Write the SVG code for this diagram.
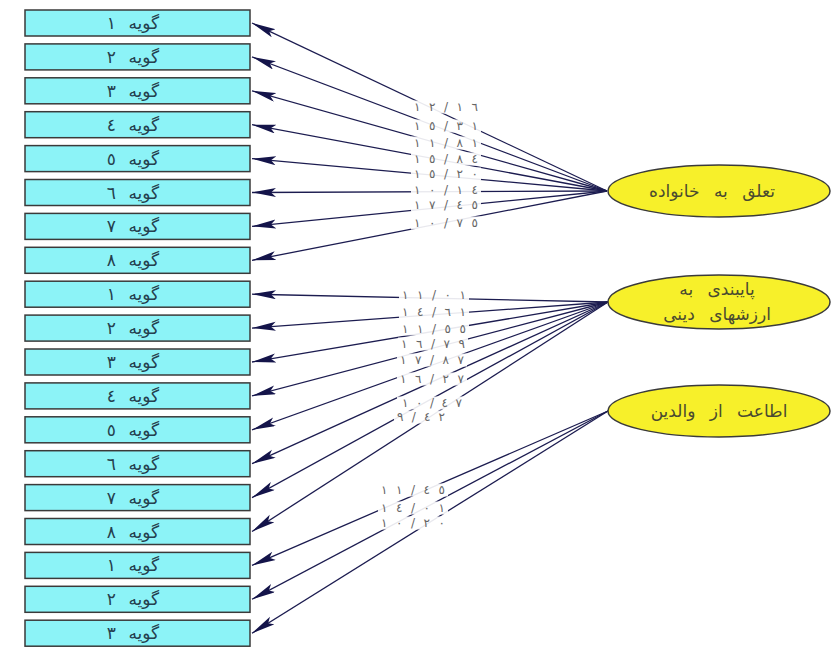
<svg xmlns="http://www.w3.org/2000/svg" width="831" height="647" viewBox="0 0 831 647">
<style>
.box{fill:#8cf3f7;stroke:#3a3a3a;stroke-width:1.5}
.bt{font-family:"DejaVu Sans",sans-serif;font-size:17px;fill:#24404e;text-anchor:middle;dominant-baseline:central;word-spacing:7px}
.ell{fill:#f7f02a;stroke:#3a3a3a;stroke-width:1.5}
.et{font-family:"DejaVu Sans",sans-serif;font-size:17px;fill:#4a4a30;text-anchor:middle;dominant-baseline:central;word-spacing:9px}
.ln{stroke:#1c1c50;stroke-width:1.3;fill:none;marker-end:url(#ah)}
.lb{fill:#ffffff;opacity:0.9}
.lt{font-family:"DejaVu Sans",sans-serif;font-size:12px;fill:#666;text-anchor:middle;dominant-baseline:central}
</style>
<defs>
<marker id="ah" markerUnits="userSpaceOnUse" markerWidth="26" markerHeight="10" refX="24" refY="4.5" orient="auto">
<path d="M0,0 L24,4.5 L0,9 L5,4.5 z" fill="#14144a"/>
</marker>
</defs>
<rect width="831" height="647" fill="#ffffff"/>
<g id="connectors">
<line class="ln" x1="607" y1="191" x2="252" y2="23"/>
<line class="ln" x1="607" y1="191" x2="252" y2="56.9"/>
<line class="ln" x1="607" y1="191" x2="252" y2="90.8"/>
<line class="ln" x1="607" y1="191" x2="252" y2="124.7"/>
<line class="ln" x1="607" y1="191" x2="252" y2="158.6"/>
<line class="ln" x1="607" y1="191" x2="252" y2="192.5"/>
<line class="ln" x1="607" y1="191" x2="252" y2="226.4"/>
<line class="ln" x1="607" y1="191" x2="252" y2="260.3"/>
<line class="ln" x1="608" y1="302" x2="252" y2="294.2"/>
<line class="ln" x1="608" y1="302" x2="252" y2="328.1"/>
<line class="ln" x1="608" y1="302" x2="252" y2="362"/>
<line class="ln" x1="608" y1="302" x2="252" y2="395.9"/>
<line class="ln" x1="608" y1="302" x2="252" y2="429.8"/>
<line class="ln" x1="608" y1="302" x2="252" y2="463.7"/>
<line class="ln" x1="608" y1="302" x2="252" y2="497.6"/>
<line class="ln" x1="608" y1="302" x2="252" y2="531.5"/>
<line class="ln" x1="608" y1="411" x2="252" y2="565.4"/>
<line class="ln" x1="608" y1="411" x2="252" y2="599.3"/>
<line class="ln" x1="608" y1="411" x2="252" y2="633.2"/>
<g id="edge-labels">
<rect class="lb" x="411" y="100.5" width="70" height="13"/><text class="lt" x="446" y="107" textLength="64" lengthAdjust="spacing">١٢/١٦</text>
<rect class="lb" x="411" y="119.5" width="70" height="13"/><text class="lt" x="446" y="126" textLength="64" lengthAdjust="spacing">١٥/٣١</text>
<rect class="lb" x="411" y="136.5" width="70" height="13"/><text class="lt" x="446" y="143" textLength="64" lengthAdjust="spacing">١١/٨١</text>
<rect class="lb" x="411" y="152.5" width="70" height="13"/><text class="lt" x="446" y="159" textLength="64" lengthAdjust="spacing">١٥/٨٤</text>
<rect class="lb" x="411" y="167.5" width="70" height="13"/><text class="lt" x="446" y="174" textLength="64" lengthAdjust="spacing">١٥/٢٠</text>
<rect class="lb" x="411" y="183.5" width="70" height="13"/><text class="lt" x="446" y="190" textLength="64" lengthAdjust="spacing">١٠/١٤</text>
<rect class="lb" x="411" y="198.5" width="70" height="13"/><text class="lt" x="446" y="205" textLength="64" lengthAdjust="spacing">١٧/٤٥</text>
<rect class="lb" x="411" y="216.5" width="70" height="13"/><text class="lt" x="446" y="223" textLength="64" lengthAdjust="spacing">١٠/٧٥</text>
<rect class="lb" x="399" y="288.5" width="70" height="13"/><text class="lt" x="434" y="295" textLength="64" lengthAdjust="spacing">١١/٠١</text>
<rect class="lb" x="399" y="305.5" width="70" height="13"/><text class="lt" x="434" y="312" textLength="64" lengthAdjust="spacing">١٤/٦١</text>
<rect class="lb" x="399" y="322.5" width="70" height="13"/><text class="lt" x="434" y="329" textLength="64" lengthAdjust="spacing">١١/٥٥</text>
<rect class="lb" x="398" y="337.5" width="70" height="13"/><text class="lt" x="433" y="344" textLength="64" lengthAdjust="spacing">١٦/٧٩</text>
<rect class="lb" x="397" y="353.5" width="70" height="13"/><text class="lt" x="432" y="360" textLength="64" lengthAdjust="spacing">١٧/٨٧</text>
<rect class="lb" x="397" y="372.5" width="70" height="13"/><text class="lt" x="432" y="379" textLength="64" lengthAdjust="spacing">١٦/٢٧</text>
<rect class="lb" x="397" y="396.5" width="70" height="13"/><text class="lt" x="432" y="403" textLength="60" lengthAdjust="spacing">١٠/٤٧</text>
<rect class="lb" x="394" y="410.5" width="54" height="13"/><text class="lt" x="421" y="417" textLength="48" lengthAdjust="spacing">٩/٤٢</text>
<rect class="lb" x="378" y="483.5" width="70" height="13"/><text class="lt" x="413" y="490" textLength="64" lengthAdjust="spacing">١١/٤٥</text>
<rect class="lb" x="378" y="501.5" width="70" height="13"/><text class="lt" x="413" y="508" textLength="64" lengthAdjust="spacing">١٤/٠١</text>
<rect class="lb" x="378" y="516.5" width="70" height="13"/><text class="lt" x="413" y="523" textLength="64" lengthAdjust="spacing">١٠/٢٠</text>
</g>
</g>
<g id="item-a1"><rect class="box" x="25" y="10" width="225" height="26"/><text class="bt" x="133" y="23" direction="rtl">گویه ١</text></g>
<g id="item-a2"><rect class="box" x="25" y="43.9" width="225" height="26"/><text class="bt" x="133" y="56.9" direction="rtl">گویه ٢</text></g>
<g id="item-a3"><rect class="box" x="25" y="77.8" width="225" height="26"/><text class="bt" x="133" y="90.8" direction="rtl">گویه ٣</text></g>
<g id="item-a4"><rect class="box" x="25" y="111.7" width="225" height="26"/><text class="bt" x="133" y="124.7" direction="rtl">گویه ٤</text></g>
<g id="item-a5"><rect class="box" x="25" y="145.6" width="225" height="26"/><text class="bt" x="133" y="158.6" direction="rtl">گویه ٥</text></g>
<g id="item-a6"><rect class="box" x="25" y="179.5" width="225" height="26"/><text class="bt" x="133" y="192.5" direction="rtl">گویه ٦</text></g>
<g id="item-a7"><rect class="box" x="25" y="213.4" width="225" height="26"/><text class="bt" x="133" y="226.4" direction="rtl">گویه ٧</text></g>
<g id="item-a8"><rect class="box" x="25" y="247.3" width="225" height="26"/><text class="bt" x="133" y="260.3" direction="rtl">گویه ٨</text></g>
<g id="item-b1"><rect class="box" x="25" y="281.2" width="225" height="26"/><text class="bt" x="133" y="294.2" direction="rtl">گویه ١</text></g>
<g id="item-b2"><rect class="box" x="25" y="315.1" width="225" height="26"/><text class="bt" x="133" y="328.1" direction="rtl">گویه ٢</text></g>
<g id="item-b3"><rect class="box" x="25" y="349" width="225" height="26"/><text class="bt" x="133" y="362" direction="rtl">گویه ٣</text></g>
<g id="item-b4"><rect class="box" x="25" y="382.9" width="225" height="26"/><text class="bt" x="133" y="395.9" direction="rtl">گویه ٤</text></g>
<g id="item-b5"><rect class="box" x="25" y="416.8" width="225" height="26"/><text class="bt" x="133" y="429.8" direction="rtl">گویه ٥</text></g>
<g id="item-b6"><rect class="box" x="25" y="450.7" width="225" height="26"/><text class="bt" x="133" y="463.7" direction="rtl">گویه ٦</text></g>
<g id="item-b7"><rect class="box" x="25" y="484.6" width="225" height="26"/><text class="bt" x="133" y="497.6" direction="rtl">گویه ٧</text></g>
<g id="item-b8"><rect class="box" x="25" y="518.5" width="225" height="26"/><text class="bt" x="133" y="531.5" direction="rtl">گویه ٨</text></g>
<g id="item-c1"><rect class="box" x="25" y="552.4" width="225" height="26"/><text class="bt" x="133" y="565.4" direction="rtl">گویه ١</text></g>
<g id="item-c2"><rect class="box" x="25" y="586.3" width="225" height="26"/><text class="bt" x="133" y="599.3" direction="rtl">گویه ٢</text></g>
<g id="item-c3"><rect class="box" x="25" y="620.2" width="225" height="26"/><text class="bt" x="133" y="633.2" direction="rtl">گویه ٣</text></g>
<g id="factor-family"><ellipse class="ell" cx="719" cy="191" rx="111" ry="26"/><text class="et" x="712" y="191" direction="rtl">تعلق به خانواده</text></g>
<g id="factor-religion"><ellipse class="ell" cx="719" cy="302" rx="111" ry="27"/><text class="et" x="717" y="289" direction="rtl">پایبندی به</text><text class="et" x="717" y="314" direction="rtl">ارزشهای دینی</text></g>
<g id="factor-obedience"><ellipse class="ell" cx="719" cy="411" rx="111" ry="26"/><text class="et" x="719" y="411" direction="rtl">اطاعت از والدین</text></g>
</svg>
